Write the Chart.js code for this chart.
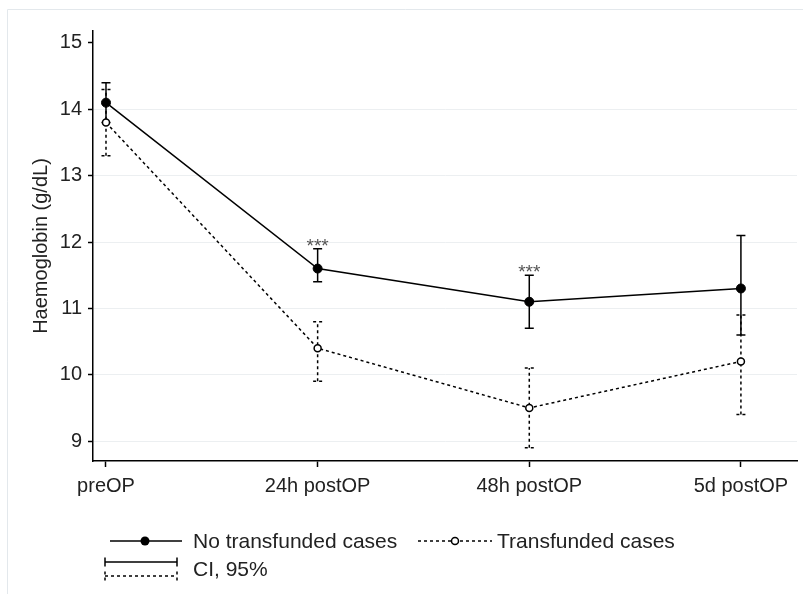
<!DOCTYPE html>
<html>
<head>
<meta charset="utf-8">
<script src="https://cdn.jsdelivr.net/npm/chart.js@4.4.0/dist/chart.umd.min.js"></script>
<style>
html, body { margin: 0; padding: 0; background: #fff; }
#wrap { width: 803px; height: 594px; }
</style>
</head>
<body>
<div id="wrap"><canvas id="chart" width="803" height="594"></canvas></div>
<script>
// time points on the x axis
const timepoints = ["preOP", "24h postOP", "48h postOP", "5d postOP"];
// means and 95% CI, no transfused cases
const noTransMean = [14.1, 11.6, 11.1, 11.3];
const noTransLow = [13.8, 11.4, 10.7, 10.6];
const noTransHigh = [14.4, 11.9, 11.5, 12.1];
// means and 95% CI, transfused cases
const transMean = [13.8, 10.4, 9.5, 10.2];
const transLow = [13.3, 9.9, 8.9, 9.4];
const transHigh = [14.3, 10.8, 10.1, 10.9];
// significance markers
const significance = ["", "***", "***", ""];
const yTicks = [9, 10, 11, 12, 13, 14, 15];

const FONT = "'Liberation Sans', Arial, Helvetica, sans-serif";

const bands = [
    { lo: noTransLow, hi: noTransHigh, dash: [] },
    { lo: transLow, hi: transHigh, dash: [3, 3] },
];

//draws the CI whiskers behind the lines
const errorBars = {
    id: "errorBars",
    beforeDatasetsDraw(chart) {
        const ctx = chart.ctx;
        const x = chart.scales.x, y = chart.scales.y;
        bands.forEach((b) => {
            ctx.save();
            ctx.strokeStyle = "#000";
            ctx.lineWidth = 1.5;
            ctx.setLineDash(b.dash);
            b.lo.forEach((lo, i) => {
                const px = x.getPixelForValue(i);
                const yl = y.getPixelForValue(lo);
                const yh = y.getPixelForValue(b.hi[i]);
                ctx.beginPath();
                ctx.moveTo(px, yl); ctx.lineTo(px, yh);
                ctx.moveTo(px - 4.5, yl); ctx.lineTo(px + 4.5, yl);
                ctx.moveTo(px - 4.5, yh); ctx.lineTo(px + 4.5, yh);
                ctx.stroke();
            });
            ctx.restore();
        });
    },
};

//stars, y title, legend and frame
const decorations = {
    id: "decorations",
    afterDraw(chart) {
        const ctx = chart.ctx;
        const x = chart.scales.x, y = chart.scales.y;
        ctx.save();

        // outer frame
        ctx.strokeStyle = "#e3e8ec";
        ctx.lineWidth = 1;
        ctx.beginPath();
        ctx.moveTo(7.5, 594); ctx.lineTo(7.5, 9.5); ctx.lineTo(803, 9.5);
        ctx.stroke();

        // significance stars
        ctx.fillStyle = "#555";
        ctx.font = "19px " + FONT;
        ctx.textAlign = "center";
        ctx.textBaseline = "alphabetic";
        significance.forEach((s, i) => {
            if (s) ctx.fillText(s, x.getPixelForValue(i), y.getPixelForValue(noTransHigh[i]) + 3);
        });

        // y title
        ctx.save();
        ctx.translate(41, (chart.chartArea.top + chart.chartArea.bottom) / 2);
        ctx.rotate(-Math.PI / 2);
        ctx.fillStyle = "#222";
        ctx.font = "20px " + FONT;
        ctx.textAlign = "center";
        ctx.textBaseline = "middle";
        ctx.fillText("Haemoglobin (g/dL)", 0, 0);
        ctx.restore();

        // legend
        ctx.strokeStyle = "#000";
        ctx.lineWidth = 1.5;
        ctx.fillStyle = "#222";
        ctx.font = "21px " + FONT;
        ctx.textAlign = "left";
        ctx.textBaseline = "middle";

        let ly = 541;
        ctx.beginPath(); ctx.moveTo(110, ly); ctx.lineTo(182, ly); ctx.stroke();
        ctx.fillStyle = "#000";
        ctx.beginPath(); ctx.arc(145, ly, 4.5, 0, Math.PI * 2); ctx.fill();
        ctx.fillStyle = "#222";
        ctx.fillText(chart.data.datasets[0].label, 193, ly + 1);

        ctx.setLineDash([3, 3]);
        ctx.beginPath(); ctx.moveTo(418, ly); ctx.lineTo(492, ly); ctx.stroke();
        ctx.setLineDash([]);
        ctx.fillStyle = "#fff";
        ctx.beginPath(); ctx.arc(455, ly, 3.5, 0, Math.PI * 2); ctx.fill(); ctx.stroke();
        ctx.fillStyle = "#222";
        ctx.fillText(chart.data.datasets[1].label, 497, ly + 1);

        // CI symbol
        const cy1 = 562, cy2 = 576;
        ctx.beginPath();
        ctx.moveTo(105, cy1); ctx.lineTo(177, cy1);
        ctx.moveTo(105, cy1 - 4.5); ctx.lineTo(105, cy1 + 4.5);
        ctx.moveTo(177, cy1 - 4.5); ctx.lineTo(177, cy1 + 4.5);
        ctx.stroke();
        ctx.setLineDash([3, 3]);
        ctx.beginPath();
        ctx.moveTo(105, cy2); ctx.lineTo(177, cy2);
        ctx.moveTo(105, cy2 - 4.5); ctx.lineTo(105, cy2 + 4.5);
        ctx.moveTo(177, cy2 - 4.5); ctx.lineTo(177, cy2 + 4.5);
        ctx.stroke();
        ctx.setLineDash([]);
        ctx.fillText("CI, 95%", 193, 570);

        ctx.restore();
    },
};

const toPoints = (arr) => arr.map((v, i) => ({ x: i, y: v }));

let myChart = new Chart(document.getElementById("chart"), {
    type: "scatter",
    data: {
        datasets: [
            {
                label: "No transfunded cases",
                data: toPoints(noTransMean),
                showLine: true,
                borderColor: "#000",
                borderWidth: 1.5,
                pointRadius: 4.5,
                pointBackgroundColor: "#000",
                pointBorderColor: "#000",
                pointBorderWidth: 1,
            },
            {
                label: "Transfunded cases",
                data: toPoints(transMean),
                showLine: true,
                borderColor: "#000",
                borderWidth: 1.5,
                borderDash: [3, 3],
                pointRadius: 3.5,
                pointBackgroundColor: "#fff",
                pointBorderColor: "#000",
                pointBorderWidth: 1.5,
            },
        ],
    },
    options: {
        responsive: false,
        animation: false,
        devicePixelRatio: 1,
        layout: { padding: { left: 0, top: 31, right: 6, bottom: 0 } },
        plugins: {
            legend: { display: false },
            tooltip: { enabled: false },
        },
        scales: {
            x: {
                type: "linear",
                min: -0.0614,
                max: 3.265,
                afterBuildTicks: (s) => { s.ticks = timepoints.map((_, i) => ({ value: i })); },
                afterFit: (s) => { s.height = 133; },
                ticks: {
                    callback: (v) => timepoints[v],
                    font: { family: FONT, size: 20 },
                    color: "#222",
                    padding: 7,
                    maxRotation: 0,
                    autoSkip: false,
                },
                grid: { drawOnChartArea: false, tickLength: 6, tickColor: "#000", tickWidth: 1.5 },
                border: { color: "#000", width: 1.5 },
            },
            y: {
                min: 8.7,
                max: 15.18,
                afterBuildTicks: (s) => { s.ticks = yTicks.map((v) => ({ value: v })); },
                afterFit: (s) => { s.width = 93; },
                ticks: {
                    font: { family: FONT, size: 20 },
                    color: "#222",
                    padding: 6,
                },
                grid: {
                    color: (c) => (c.tick && c.tick.value === 15 ? "rgba(0,0,0,0)" : "#eceff1"),
                    tickColor: "#000",
                    tickLength: 5,
                    tickWidth: 1.5,
                    lineWidth: 1,
                },
                border: { color: "#000", width: 1.5 },
            },
        },
    },
    plugins: [errorBars, decorations],
});
</script>
</body>
</html>
